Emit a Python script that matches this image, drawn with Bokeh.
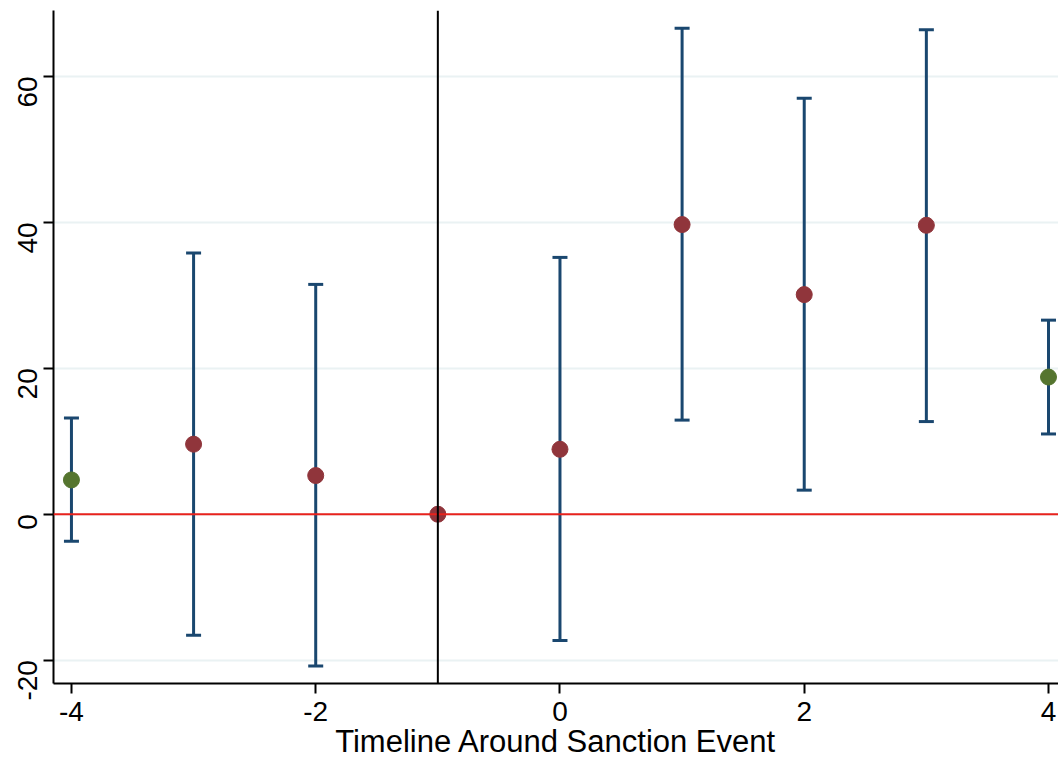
from bokeh.plotting import figure
from bokeh.models import ColumnDataSource, Whisker, TeeHead, Span, FixedTicker, Range1d
from bokeh.embed import file_html
from bokeh.resources import INLINE
import math

periods = [-4, -3, -2, -1, 0, 1, 2, 3, 4]
coef = [4.7, 9.6, 5.3, 0.0, 8.9, 39.7, 30.1, 39.6, 18.8]
upper = [13.2, 35.8, 31.5, 0.0, 35.2, 66.6, 57.0, 66.4, 26.6]
lower = [-3.7, -16.6, -20.8, 0.0, -17.3, 12.9, 3.3, 12.7, 11.0]
colors = ["#55752f", "#90353b", "#90353b", "#90353b", "#90353b", "#90353b", "#90353b", "#90353b", "#55752f"]
x_ticks = [-4, -2, 0, 2, 4]
y_ticks = [-20, 0, 20, 40, 60]

src = ColumnDataSource(dict(x=periods, y=coef, up=upper, lo=lower, c=colors))

p = figure(width=1058, height=761, output_backend="svg", toolbar_location=None,
           x_range=Range1d(-4.147, 4.082), y_range=Range1d(-23.2, 69.04),
           min_border_left=53, min_border_right=0, min_border_top=10, min_border_bottom=0)
p.outline_line_color = None
p.background_fill_color = "white"
p.border_fill_color = "white"

p.xgrid.visible = False
p.ygrid.ticker = FixedTicker(ticks=y_ticks)
p.ygrid.grid_line_color = "#eaf2f3"
p.ygrid.grid_line_width = 2

p.xaxis.ticker = FixedTicker(ticks=x_ticks)
p.yaxis.ticker = FixedTicker(ticks=y_ticks)
p.xaxis.major_label_overrides = {t: str(t) for t in x_ticks}
p.yaxis.major_label_overrides = {t: str(t) for t in y_ticks}
for ax in (p.xaxis, p.yaxis):
    ax.axis_line_color = "black"
    ax.axis_line_width = 2
    ax.major_tick_line_color = "black"
    ax.major_tick_line_width = 2
    ax.major_tick_out = 10
    ax.major_tick_in = 0
    ax.minor_tick_line_color = None
    ax.major_label_text_font = "Liberation Sans"
    ax.major_label_text_font_size = "28px"
    ax.major_label_text_color = "black"
p.yaxis.major_label_orientation = math.pi / 2
p.xaxis.axis_label = "Timeline Around Sanction Event"
p.xaxis.axis_label_text_font = "Liberation Sans"
p.xaxis.axis_label_text_font_style = "normal"
p.xaxis.axis_label_text_font_size = "31px"
p.xaxis.axis_label_text_color = "black"
p.xaxis.axis_label_standoff = 0
p.xaxis.major_label_standoff = 8
p.yaxis.major_label_standoff = 16

p.add_layout(Span(location=0, dimension="width", line_color="#e8221c", line_width=2))
p.add_layout(Span(location=-1, dimension="height", line_color="black", line_width=2))

w = Whisker(source=src, base="x", upper="up", lower="lo", line_color="#1a476f", line_width=3,
            upper_head=TeeHead(size=15, line_color="#1a476f", line_width=3),
            lower_head=TeeHead(size=15, line_color="#1a476f", line_width=3))
p.add_layout(w)

p.scatter("x", "y", source=src, size=16, fill_color="c", line_color="c", line_width=1)

open("out.html", "w").write(file_html(p, INLINE))
